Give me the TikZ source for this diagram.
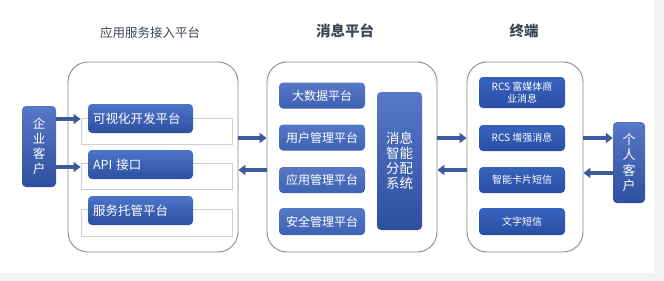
\documentclass[tikz,border=0pt]{standalone}
\usepackage{fontspec}
\setmainfont{Noto Sans CJK SC}
\usetikzlibrary{arrows.meta,calc}
\definecolor{titlec}{HTML}{3E4656}
\definecolor{bgstrip}{HTML}{F3F3F1}
\definecolor{outerc}{HTML}{8A8A8A}
\definecolor{outlc}{HTML}{CFCFCF}
\definecolor{arrc}{HTML}{3C5A9C}
\definecolor{lbtop}{HTML}{4C74C9}
\definecolor{lbbot}{HTML}{2D4F9F}
\definecolor{mbtop}{HTML}{5678C6}
\definecolor{mbbot}{HTML}{3F61B2}
\definecolor{rbtop}{HTML}{3763BC}
\definecolor{rbbot}{HTML}{2A4EA6}
\tikzset{
  outerbox/.style={draw=outerc, line width=0.9pt, rounded corners=20pt, fill=white},
  outlbox/.style={draw=outlc, line width=0.8pt, minimum width=151pt, minimum height=26pt, inner sep=0pt},
  lblue/.style={rounded corners=4pt, top color=lbtop, bottom color=lbbot, text=white,
    minimum width=105pt, minimum height=29pt, text width=95pt, align=left, inner xsep=5pt,
    font=\fontsize{12.5}{14}\selectfont},
  mblue/.style={rounded corners=4pt, top color=mbtop, bottom color=mbbot, text=white,
    minimum width=86pt, minimum height=26pt, inner sep=0pt, font=\fontsize{12}{14}\selectfont},
  rblue/.style={rounded corners=4pt, top color=rbtop, bottom color=rbbot, text=white,
    minimum width=86pt, minimum height=26pt, inner sep=0pt, align=center,
    font=\fontsize{10}{12}\selectfont},
  sidebox/.style={rounded corners=4pt, top color=mbtop, bottom color=lbbot, text=white,
    inner sep=0pt, align=center},
  titletext/.style={text=titlec},
  arr/.style={draw=arrc, line width=4pt, -{Triangle[width=10pt,length=7pt]}},
}
\begin{document}
\begin{tikzpicture}[x=1pt,y=-1pt]
\useasboundingbox (0,0) rectangle (664,281);
\fill[white] (0,0) rectangle (664,281);
\fill[bgstrip] (0,273) rectangle (664,281);
\fill[bgstrip] (654,0) rectangle (664,281);

% titles
\node[titletext, font=\fontsize{12.5}{14}\selectfont] (t1) at (150,33) {应用服务接入平台};
\node[titletext, font=\fontsize{14.5}{16}\selectfont\bfseries] (t2) at (345,31) {消息平台};
\node[titletext, font=\fontsize{14.5}{16}\selectfont\bfseries] (t3) at (524,31) {终端};

% outer containers
\node[outerbox, minimum width=170pt, minimum height=190pt] (L) at (153,157) {};
\node[outerbox, minimum width=170pt, minimum height=190pt] (M) at (352,157) {};
\node[outerbox, minimum width=116pt, minimum height=190pt] (R) at (525,157) {};

% left outlines and boxes
\node[outlbox] (o1) at (156.5,131) {};
\node[outlbox] (o2) at (156.5,176) {};
\node[outlbox, minimum height=27pt] (o3) at (156.5,222.5) {};
\node[lblue] (v1) at (140.5,118.5) {可视化开发平台};
\node[lblue] (v2) at (140.5,164.5) {API 接口};
\node[lblue] (v3) at (140.5,210.5) {服务托管平台};

% middle boxes
\node[mblue] (b1) at (322,95.5) {大数据平台};
\node[mblue] (b2) at (322,137.5) {用户管理平台};
\node[mblue] (b3) at (322,180) {应用管理平台};
\node[mblue, minimum height=27pt] (b4) at (322,221.5) {安全管理平台};
\node[sidebox, minimum width=45pt, minimum height=138pt,
      font=\fontsize{13.5}{15}\selectfont] (sys) at (399.5,161) {消息\\智能\\分配\\系统};

% right boxes
\node[rblue, minimum height=31pt] (r1) at (522,92.5) {RCS 富媒体商\\业消息};
\node[rblue] (r2) at (522,138) {RCS 增强消息};
\node[rblue] (r3) at (522,180) {智能卡片短信};
\node[rblue, minimum height=27pt] (r4) at (522,221.5) {文字短信};

% side customers
\node[sidebox, minimum width=34pt, minimum height=81pt,
      font=\fontsize{12.5}{15}\selectfont] (ent) at (39,146.5) {企\\业\\客\\户};
\node[sidebox, minimum width=32pt, minimum height=81pt,
      font=\fontsize{13}{15.5}\selectfont] (per) at (629,162.5) {个\\人\\客\\户};

% arrow rows
\coordinate (ya) at (0,119);
\coordinate (yb) at (0,167);
\coordinate (yc) at (0,138);
\coordinate (yd) at (0,170);
\coordinate (ye) at (0,173);

\draw[arr] (ent.east |- ya) -- (o1.west |- ya);
\draw[arr] (ent.east |- yb) -- (o2.west |- yb);
\draw[arr] (L.east |- yc) -- (M.west |- yc);
\draw[arr] (M.west |- yd) -- (L.east |- yd);
\draw[arr] (M.east |- yc) -- (R.west |- yc);
\draw[arr] (R.west |- yd) -- (M.east |- yd);
\draw[arr] (R.east |- yc) -- (per.west |- yc);
\draw[arr] (per.west |- ye) -- (R.east |- ye);
\end{tikzpicture}
\end{document}
